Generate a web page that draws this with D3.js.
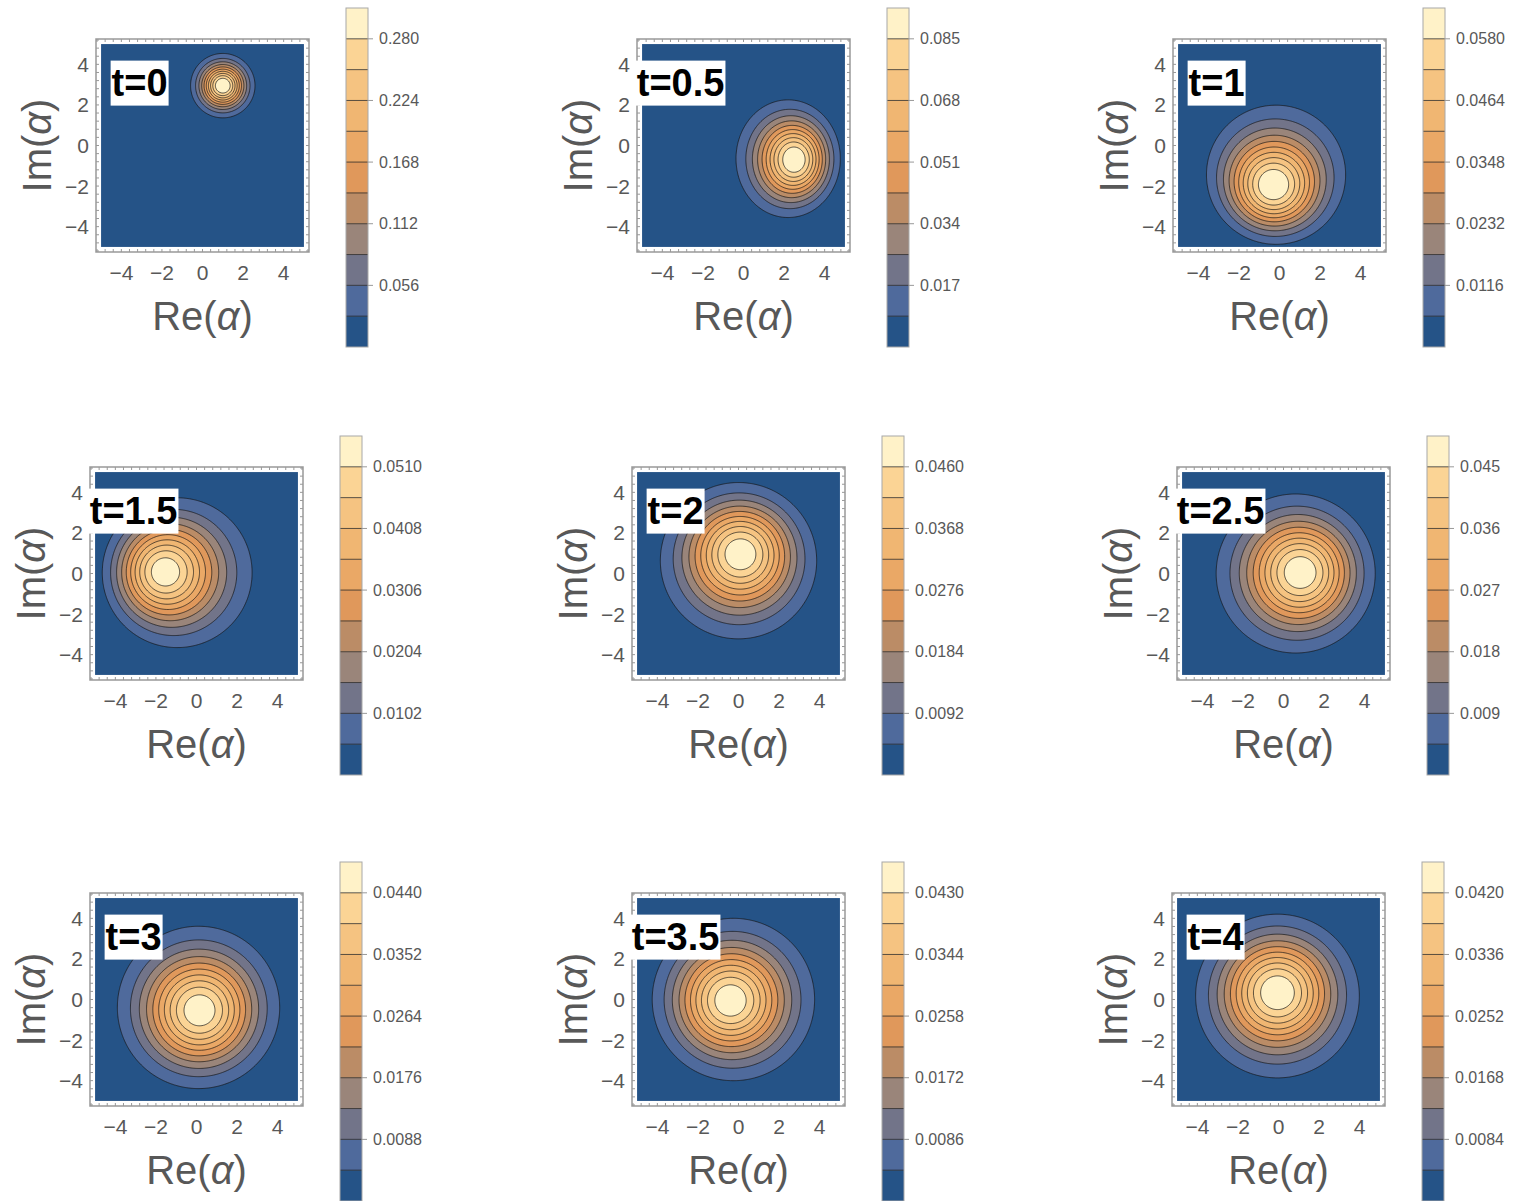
<!DOCTYPE html>
<html>
<head>
<meta charset="utf-8">
<script src="https://cdnjs.cloudflare.com/ajax/libs/d3/7.8.5/d3.min.js"></script>
<style>
body { margin: 0; background: #fff; }
svg { display: block; }
text { font-family: "Liberation Sans", Arial, sans-serif; }
</style>
</head>
<body>
<svg id="chart" width="1528" height="1201"></svg>
<script>
// one entry per panel
const times = ["0", "0.5", "1", "1.5", "2", "2.5", "3", "3.5", "4"];
const legendStep = [0.028, 0.0085, 0.0058, 0.0051, 0.0046, 0.0045, 0.0044, 0.0043, 0.0042];
const legendTicks = [
  ["0.056", "0.112", "0.168", "0.224", "0.280"],
  ["0.017", "0.034", "0.051", "0.068", "0.085"],
  ["0.0116", "0.0232", "0.0348", "0.0464", "0.0580"],
  ["0.0102", "0.0204", "0.0306", "0.0408", "0.0510"],
  ["0.0092", "0.0184", "0.0276", "0.0368", "0.0460"],
  ["0.009", "0.018", "0.027", "0.036", "0.045"],
  ["0.0088", "0.0176", "0.0264", "0.0352", "0.0440"],
  ["0.0086", "0.0172", "0.0258", "0.0344", "0.0430"],
  ["0.0084", "0.0168", "0.0252", "0.0336", "0.0420"]
];
// peak height and position of the distribution
const peak = [0.318, 0.095, 0.065, 0.0555, 0.0505, 0.0495, 0.048, 0.047, 0.0465];
const centerRe = [1.0, 2.5, -0.3, -1.55, 0.1, 0.83, 0.15, -0.4, -0.05];
const centerIm = [2.95, -0.7, -1.95, 0.08, 0.96, 0.05, -0.54, -0.05, 0.34];
const widthRe = [0.72, 1.17, 1.56, 1.69, 1.76, 1.79, 1.83, 1.83, 1.84];
const widthIm = [0.72, 1.32, 1.56, 1.69, 1.76, 1.79, 1.83, 1.83, 1.84];
// how far the outer contours sit from the peak
const driftRe = [0, -0.3, 0.13, 0.6, -0.1, -0.23, -0.05, 0.15, 0];
const driftIm = [0, 0.05, 0.51, -0.04, -0.33, -0.05, 0.15, 0.05, -0.17];
const axisTicks = [-4, -2, 0, 2, 4];

// layout
const frameLeft = [96, 637, 1173, 90, 632, 1177, 90, 632, 1172];
const frameTop = [39, 39, 39, 467, 467, 467, 893, 893, 893];
const frameSize = 213;

const bandColors = ["#255387", "#4f6a9c", "#727489", "#9a857a", "#bb8c66", "#e0985b",
  "#eaa866", "#f0b672", "#f5c381", "#fbd495", "#fff2c8"];
const grey = "#585858";
const lineColor = "rgba(20,20,20,0.7)";

const svg = d3.select("#chart");
const N = 221;
const step = 10 / (N - 1);
const fmt = s => s.replace("-", "\u2212");

times.forEach((t, p) => {
  const fx = frameLeft[p], fy = frameTop[p];
  const x = d3.scaleLinear().domain([-5.25, 5.25]).range([fx, fx + frameSize]);
  const y = d3.scaleLinear().domain([-5.25, 5.25]).range([fy + frameSize, fy]);
  const g = svg.append("g");
  const d = legendStep[p];

  // field on a grid
  const rho1 = Math.sqrt(2 * Math.log(peak[p] / d));
  const values = new Float64Array(N * N);
  for (let j = 0; j < N; j++) {
    for (let i = 0; i < N; i++) {
      const dx = -5 + i * step - centerRe[p];
      const dy = 5 - j * step - centerIm[p];
      let rho = 0;
      for (let it = 0; it < 25; it++) {
        const s = Math.min(1, (rho / rho1) * (rho / rho1));
        const u = (dx - driftRe[p] * s) / widthRe[p];
        const w = (dy - driftIm[p] * s) / widthIm[p];
        rho = Math.sqrt(u * u + w * w);
      }
      values[j * N + i] = peak[p] * Math.exp(-rho * rho / 2);
    }
  }
  const levels = d3.range(1, 11).map(k => k * d);
  const contours = d3.contours().size([N, N]).thresholds(levels)(values);
  const proj = d3.geoTransform({
    point: function(px, py) {
      this.stream.point(x(-5 + (px - 0.5) * step), y(5 - (py - 0.5) * step));
    }
  });
  const path = d3.geoPath(proj);

  const clipId = "clip" + p;
  g.append("clipPath").attr("id", clipId).append("rect")
    .attr("x", x(-5)).attr("y", y(5))
    .attr("width", x(5) - x(-5)).attr("height", y(-5) - y(5));

  const plot = g.append("g").attr("clip-path", "url(#" + clipId + ")");
  plot.append("rect")
    .attr("x", x(-5)).attr("y", y(5))
    .attr("width", x(5) - x(-5)).attr("height", y(-5) - y(5))
    .attr("fill", bandColors[0]);
  plot.selectAll("path").data(contours).join("path")
    .attr("d", path)
    .attr("fill", (c, k) => bandColors[k + 1])
    .attr("stroke", lineColor)
    .attr("stroke-width", 1);

  // frame with ticks
  g.append("rect")
    .attr("x", fx).attr("y", fy).attr("width", frameSize).attr("height", frameSize)
    .attr("fill", "none").attr("stroke", "#999").attr("stroke-width", 1.5);
  const minor = d3.range(-5.2, 5.21, 0.4).filter(v => Math.abs(v) <= 5.2);
  const tk = g.append("g").attr("stroke", "#999").attr("stroke-width", 1);
  minor.forEach(v => {
    const len = 3;
    tk.append("line").attr("x1", x(v)).attr("x2", x(v)).attr("y1", fy).attr("y2", fy + len);
    tk.append("line").attr("x1", x(v)).attr("x2", x(v)).attr("y1", fy + frameSize).attr("y2", fy + frameSize - len);
    tk.append("line").attr("y1", y(v)).attr("y2", y(v)).attr("x1", fx).attr("x2", fx + len);
    tk.append("line").attr("y1", y(v)).attr("y2", y(v)).attr("x1", fx + frameSize).attr("x2", fx + frameSize - len);
  });

  // tick labels
  g.selectAll("text.xt").data(axisTicks).join("text")
    .attr("x", v => x(v)).attr("y", fy + frameSize + 28)
    .attr("text-anchor", "middle").attr("font-size", 21).attr("fill", grey)
    .text(v => fmt(String(v)));
  g.selectAll("text.yt").data(axisTicks).join("text")
    .attr("x", fx - 7).attr("y", v => y(v) + 7.5)
    .attr("text-anchor", "end").attr("font-size", 21).attr("fill", grey)
    .text(v => fmt(String(v)));

  // axis titles
  const re = g.append("text")
    .attr("x", fx + frameSize / 2).attr("y", fy + frameSize + 78)
    .attr("text-anchor", "middle").attr("font-size", 40).attr("fill", grey);
  re.append("tspan").text("Re(");
  re.append("tspan").attr("font-style", "italic").text("\u03b1");
  re.append("tspan").text(")");
  const im = g.append("text")
    .attr("transform", "translate(" + (fx - 45) + "," + (fy + frameSize / 2) + ") rotate(-90)")
    .attr("text-anchor", "middle").attr("font-size", 40).attr("fill", grey);
  im.append("tspan").text("Im(");
  im.append("tspan").attr("font-style", "italic").text("\u03b1");
  im.append("tspan").text(")");

  // time label
  const lx = x(-3.1), ly = y(3.1);
  const lab = g.append("g");
  const box = lab.append("rect").attr("fill", "#fff");
  const txt = lab.append("text")
    .attr("x", lx).attr("y", ly + 13)
    .attr("text-anchor", "middle").attr("font-size", 38).attr("font-weight", "bold")
    .attr("fill", "#000").text("t=" + t);
  const bw = txt.node().getComputedTextLength() + 2;
  box.attr("x", lx - bw / 2).attr("y", ly - 22).attr("width", bw).attr("height", 45);

  // colour bar
  const cbx = fx + 250, cbw = 22;
  const cy = d3.scaleLinear().domain([0, 11 * d]).range([fy - 31 + 339, fy - 31]);
  const cb = g.append("g");
  cb.selectAll("rect.band").data(bandColors).join("rect")
    .attr("x", cbx).attr("width", cbw)
    .attr("y", (c, k) => cy((k + 1) * d)).attr("height", (c, k) => cy(k * d) - cy((k + 1) * d))
    .attr("fill", c => c);
  cb.selectAll("line.sep").data(levels).join("line")
    .attr("x1", cbx).attr("x2", cbx + cbw)
    .attr("y1", v => cy(v)).attr("y2", v => cy(v))
    .attr("stroke", lineColor).attr("stroke-width", 1);
  cb.append("rect")
    .attr("x", cbx).attr("y", cy(11 * d)).attr("width", cbw).attr("height", cy(0) - cy(11 * d))
    .attr("fill", "none").attr("stroke", "#a8a8a8").attr("stroke-width", 1);
  const ticks = legendTicks[p];
  cb.selectAll("line.tk").data(ticks).join("line")
    .attr("x1", cbx + cbw).attr("x2", cbx + cbw + 5)
    .attr("y1", s => cy(+s)).attr("y2", s => cy(+s))
    .attr("stroke", "#999");
  cb.selectAll("text").data(ticks).join("text")
    .attr("x", cbx + cbw + 11).attr("y", s => cy(+s) + 5.5)
    .attr("font-size", 16).attr("fill", grey)
    .text(s => s);
});
</script>
</body>
</html>
